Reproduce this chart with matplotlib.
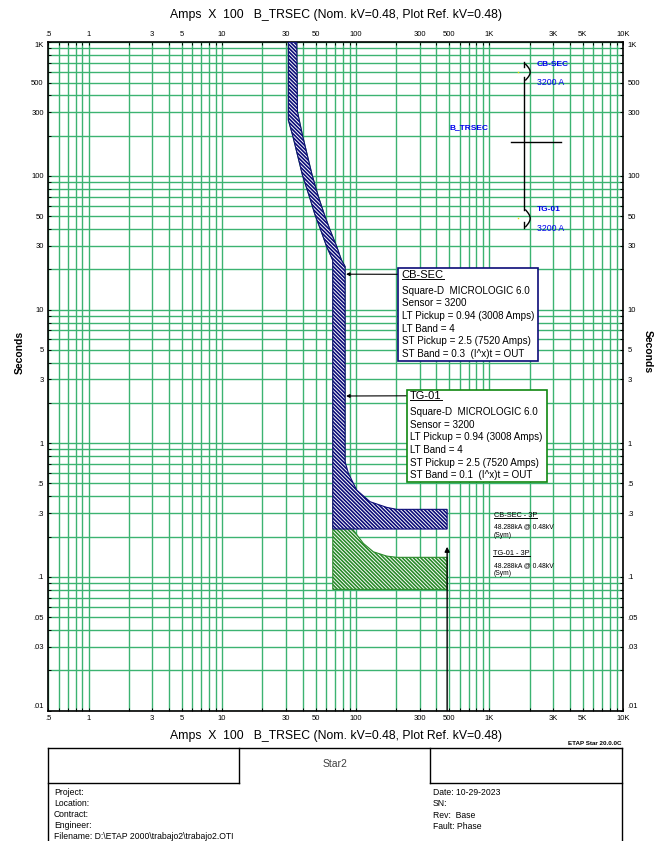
import numpy as np
import matplotlib
matplotlib.use('Agg')
import matplotlib.pyplot as plt
from matplotlib.patches import Polygon, Rectangle
from matplotlib.lines import Line2D
from matplotlib.ticker import NullLocator
from matplotlib.transforms import Affine2D

plt.rcParams['font.family'] = ['Liberation Sans', 'DejaVu Sans']
plt.rcParams['hatch.linewidth'] = 1.2

W, H = 662, 841

# grid / tick positions (Amps x 100 and seconds)
x_ticks = [m * 10.0 ** e for e in range(-1, 4) for m in range(1, 10)][4:] + [10000]
x_labels = {0.5: '.5', 1: '1', 3: '3', 5: '5', 10: '10', 30: '30', 50: '50',
            100: '100', 300: '300', 500: '500', 1000: '1K', 3000: '3K',
            5000: '5K', 10000: '10K'}
y_ticks = [m * 10.0 ** e for e in range(-2, 3) for m in range(1, 10)] + [1000]
y_labels = {0.01: '.01', 0.03: '.03', 0.05: '.05', 0.1: '.1', 0.3: '.3',
            0.5: '.5', 1: '1', 3: '3', 5: '5', 10: '10', 30: '30', 50: '50',
            100: '100', 300: '300', 500: '500', 1000: '1K'}

# CB-SEC band (minimum / maximum clearing curves)
cb_min_amps = [31.3, 31.3, 33.7, 39.9, 45.0, 49.6, 54.7, 60.6, 67.2, 67.3, 67.3]
cb_min_sec = [1000, 262, 201.6, 101.7, 70.0, 51.1, 39.4, 29.6, 23.5, 22.0, 0.228]
cb_max_amps = [36.2, 36.6, 39.9, 47.1, 52.5, 58.3, 64.2, 72.0, 78.1, 83.2,
               83.2, 88.1, 101.7, 127.9, 170.6, 202.8]
cb_max_sec = [1000, 303, 201.6, 101.7, 70.0, 51.1, 39.4, 29.6, 23.5, 21.0,
              0.727, 0.595, 0.446, 0.365, 0.331, 0.320]

# TG-01 band
tg_min_amps = [31.3, 31.3, 33.7, 39.9, 45.0, 49.6, 54.7, 60.6, 67.2, 67.3, 67.3]
tg_min_sec = [1000, 262, 201.6, 101.7, 70.0, 51.1, 39.4, 29.6, 23.5, 22.0, 0.0806]
tg_max_amps = [36.2, 36.6, 39.9, 47.1, 52.5, 58.3, 64.2, 72.0, 78.1, 83.2,
               83.2, 88.5, 95.9, 114.0, 135.5, 170.6, 202.8]
tg_max_sec = [1000, 303, 201.6, 101.7, 70.0, 51.1, 39.4, 29.6, 23.5, 21.0,
              0.40, 0.29, 0.224, 0.178, 0.154, 0.143, 0.140]

fault_amps = 482.88
fault_arrow_top = 0.168

fig = plt.figure(figsize=(W / 100, H / 100), dpi=100)
px = Affine2D().scale(1 / W, -1 / H).translate(0, 1) + fig.transFigure

ax = fig.add_axes([48.3 / W, 1 - 710.5 / H, (623 - 48.3) / W, (710.5 - 42.3) / H])
ax.set_xscale('log')
ax.set_yscale('log')
ax.set_xlim(0.5, 10000)
ax.set_ylim(0.01, 1000)
ax.set_xticks(x_ticks)
ax.set_xticklabels([x_labels.get(round(v, 3), '') for v in x_ticks])
ax.set_yticks(y_ticks)
ax.set_yticklabels([y_labels.get(round(v, 3), '') for v in y_ticks])
ax.xaxis.set_minor_locator(NullLocator())
ax.yaxis.set_minor_locator(NullLocator())
ax.tick_params(which='both', direction='in', length=2.4, width=0.7,
               top=True, right=True, labeltop=True, labelright=True,
               labelsize=5.5, pad=3.0)
ax.tick_params(axis='y', pad=3.3)
for tk in ax.yaxis.get_major_ticks():
    if tk.get_loc() >= 999:
        tk.label1.set_va('top'); tk.label2.set_va('top')
    if tk.get_loc() <= 0.0101:
        tk.label1.set_va('bottom'); tk.label2.set_va('bottom')
ax.grid(True, color='#3cb371', lw=1.0)
ax.set_axisbelow(True)
for s in ax.spines.values():
    s.set_linewidth(1.2)

# bands
hatch = '\\' * 9
tg_poly = (list(zip(tg_min_amps, tg_min_sec))
           + [(fault_amps, tg_min_sec[-1]), (fault_amps, tg_max_sec[-1])]
           + list(zip(tg_max_amps, tg_max_sec))[::-1])
ax.add_patch(Polygon(tg_poly, closed=True, facecolor='white', edgecolor='#2a8a2a',
                     hatch=hatch, lw=0.8, zorder=2))
cb_poly = (list(zip(cb_min_amps, cb_min_sec))
           + [(fault_amps, cb_min_sec[-1]), (fault_amps, cb_max_sec[-1])]
           + list(zip(cb_max_amps, cb_max_sec))[::-1])
ax.add_patch(Polygon(cb_poly, closed=True, facecolor='white', edgecolor='#0c0c78',
                     hatch=hatch, lw=0.8, zorder=3))

# fault current arrow
ax.annotate('', xy=(fault_amps, fault_arrow_top), xytext=(fault_amps, 0.01),
            arrowprops=dict(arrowstyle='-|>', color='black', lw=1.0,
                            mutation_scale=7, shrinkA=0, shrinkB=0), zorder=4)

# callout boxes
def callout(x0, y0, x1, y1, color, title, lines, tx, ty, target):
    fig.add_artist(Rectangle((x0, y0), x1 - x0, y1 - y0, transform=px,
                             facecolor='white', edgecolor=color, lw=1.2, zorder=5))
    t = fig.text(tx, ty, title, transform=px, fontsize=8, va='center', ha='left', zorder=6)
    for i, ln in enumerate(lines):
        fig.text(tx, ty + 15.8 + 12.6 * i, ln, transform=px, fontsize=7.1,
                 va='center', ha='left', zorder=6)
    ax.annotate('', xy=target, xycoords='data', xytext=(x0, ty - 0.7), textcoords=px,
                arrowprops=dict(arrowstyle='-|>', color='black', lw=0.8,
                                mutation_scale=5, shrinkA=0, shrinkB=0), zorder=6)
    return t

underlined = []
underlined.append(callout(398.3, 268.3, 538.3, 361, '#0c0c78', 'CB-SEC',
        ['Square-D  MICROLOGIC 6.0', 'Sensor = 3200', 'LT Pickup = 0.94 (3008 Amps)',
         'LT Band = 4', 'ST Pickup = 2.5 (7520 Amps)', 'ST Band = 0.3  (I^x)t = OUT'],
        401.7, 275, (84.6, 18.4)))
underlined.append(callout(407.3, 390, 547.3, 482.3, '#118811', 'TG-01',
        ['Square-D  MICROLOGIC 6.0', 'Sensor = 3200', 'LT Pickup = 0.94 (3008 Amps)',
         'LT Band = 4', 'ST Pickup = 2.5 (7520 Amps)', 'ST Band = 0.1  (I^x)t = OUT'],
        410, 396.5, (84.6, 2.256)))

# fault current labels
underlined.append(fig.text(494, 516, 'CB-SEC - 3P', transform=px, fontsize=5.3, va='center'))
fig.text(493.5, 526.7, '48.288kA @ 0.48kV', transform=px, fontsize=4.9, va='center')
fig.text(493.8, 535.3, '(Sym)', transform=px, fontsize=4.9, va='center')
underlined.append(fig.text(493.3, 553.7, 'TG-01 - 3P', transform=px, fontsize=5.3, va='center'))
fig.text(493.5, 565.3, '48.288kA @ 0.48kV', transform=px, fontsize=4.9, va='center')
fig.text(493.8, 574, '(Sym)', transform=px, fontsize=4.9, va='center')

# one-line diagram
def pline(xs, ys, **kw):
    fig.add_artist(Line2D(xs, ys, transform=px, color='black', lw=1.0, **kw))

pline([524.3, 524.3], [76.7, 210])
pline([524.3, 524.3], [62, 67])
pline([524.3, 524.3], [222, 228.5])
pline([511, 560.7], [142.3, 142.3])
for ya, yb in [(64.3, 80), (210, 226.7)]:
    yy = np.linspace(ya, yb, 15)
    pline(525.7 + 4.5 * np.sin(np.pi * (yy - ya) / (yb - ya)), yy)
fig.add_artist(Line2D([518.3, 518.3], [72.3, 218.3], transform=px, ls='none',
                      marker='s', ms=1, color='#f0e000', mec='none'))
blue = '#0000ee'
fig.text(536.7, 64.3, 'CB-SEC', transform=px, fontsize=6, weight='bold', color=blue, va='center')
fig.text(536.7, 82.7, '3200 A', transform=px, fontsize=6.3, color=blue, va='center')
fig.text(449, 127.7, 'B_TRSEC', transform=px, fontsize=6, weight='bold', color=blue, va='center')
fig.text(536.7, 209.3, 'TG-01', transform=px, fontsize=6, weight='bold', color=blue, va='center')
fig.text(536.7, 228.3, '3200 A', transform=px, fontsize=6.3, color=blue, va='center')

# titles and axis labels
title = 'Amps  X  100   B_TRSEC (Nom. kV=0.48, Plot Ref. kV=0.48)'
fig.text(336, 15, title, transform=px, fontsize=8.8, ha='center', va='center')
fig.text(336, 736, title, transform=px, fontsize=8.8, ha='center', va='center')
fig.text(20, 352, 'Seconds', transform=px, fontsize=7.5, weight='bold',
         rotation=90, ha='center', va='center')
fig.text(648, 352, 'Seconds', transform=px, fontsize=7.5, weight='bold',
         rotation=270, ha='center', va='center')

# title block
pline([48, 622], [748, 748])
pline([48, 48], [748, 845])
pline([622, 622], [748, 845])
pline([239.3, 239.3], [748, 783.3])
pline([48, 239.3], [783.3, 783.3])
pline([430.3, 430.3], [748, 783.3])
pline([430.3, 622], [783.3, 783.3])
fig.text(622, 743.3, 'ETAP Star 20.0.0C', transform=px, fontsize=4.5, weight='bold',
         ha='right', va='center')
fig.text(335, 764, 'Star2', transform=px, fontsize=7.5, color='#404040',
         ha='center', va='center')
for i, s in enumerate(['Project:', 'Location:', 'Contract:', 'Engineer:',
                       'Filename: D:\\ETAP 2000\\trabajo2\\trabajo2.OTI']):
    fig.text(54, 792.5 + 10.9 * i, s, transform=px, fontsize=6.2, va='center')
for i, s in enumerate(['Date: 10-29-2023', 'SN:', 'Rev:  Base', 'Fault: Phase']):
    fig.text(432.7, 792.5 + 11.3 * i, s, transform=px, fontsize=6.2, va='center')

# underlines
fig.canvas.draw()
r = fig.canvas.get_renderer()
for t in underlined:
    bb = t.get_window_extent(r)
    y = bb.y0 + 1.2
    fig.add_artist(Line2D([bb.x0 / W, bb.x1 / W], [y / H, y / H],
                          transform=fig.transFigure, color='black', lw=0.7, zorder=7))

fig.savefig('out.png', dpi=100)
